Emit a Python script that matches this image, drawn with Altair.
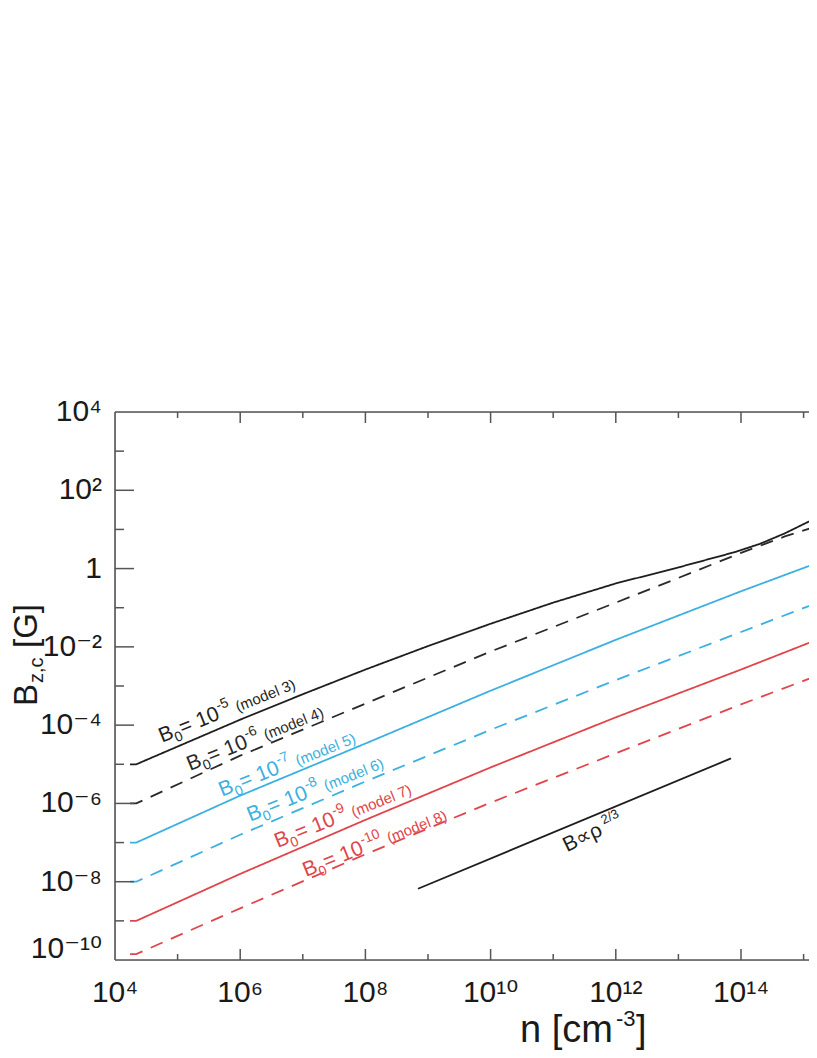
import altair as alt
import pandas as pd

FONT = "Liberation Sans, Arial, Helvetica, DejaVu Sans, sans-serif"

# ---------------- data (log10 values) ----------------
logn_m3 = [4.24, 4.34, 6.0, 7.0, 8.0, 9.0, 10.0, 11.0, 12.0, 13.0, 13.9, 14.3, 14.7, 15.21]
logb_m3 = [-5.00, -5.00, -3.86, -3.21, -2.58, -1.98, -1.41, -0.87, -0.38, 0.03, 0.42, 0.63, 0.90, 1.30]

logn_m4 = [4.24, 4.34, 6.0, 8.0, 10.0, 12.0, 13.0, 14.0, 14.3, 14.7, 15.21]
logb_m4 = [-6.00, -6.00, -4.78, -3.45, -2.12, -0.87, -0.24, 0.40, 0.58, 0.82, 1.08]

logn_std = [4.24, 4.34, 6.0, 8.0, 10.0, 12.0, 14.0, 15.21]
logb_m5 = [-7.00, -7.00, -5.80, -4.47, -3.12, -1.82, -0.58, 0.14]
logb_m6 = [-8.00, -8.00, -6.80, -5.44, -4.12, -2.85, -1.62, -0.88]
logb_m7 = [-9.00, -9.00, -7.80, -6.42, -5.08, -3.80, -2.58, -1.82]
logb_m8 = [-9.85, -9.85, -8.68, -7.30, -5.98, -4.72, -3.47, -2.74]

models = ["model 3", "model 4", "model 5", "model 6", "model 7", "model 8"]
line_colors = ["#1e1e1e", "#2a2a2a", "#3cb0e0", "#3cb0e0", "#e0454b", "#e0454b"]
line_dash = ["solid", "dashed", "solid", "dashed", "solid", "dashed"]

# reference power law B ~ rho^(2/3)
logn_pl = [8.84, 13.84]
logb_pl = [-8.18, -4.85]

# model labels
label_exp = ["-5", "-6", "-7", "-8", "-9", "-10"]
label_logn = [4.75, 5.20, 5.71, 6.16, 6.60, 7.05]
label_logb = [-4.45, -5.17, -5.83, -6.47, -7.14, -7.88]
pl_label_logn = [11.22]
pl_label_logb = [-7.25]

# axes
x_label_values = [1e4, 1e6, 1e8, 1e10, 1e12, 1e14]
x_label_texts = ["10⁴", "10⁶", "10⁸", "10¹⁰", "10¹²", "10¹⁴"]
y_label_values = [1e-10, 1e-8, 1e-6, 1e-4, 1e-2, 1, 1e2, 1e4]
y_label_texts = ["10⁻¹⁰", "10⁻⁸", "10⁻⁶", "10⁻⁴", "10⁻²", "1", "10²", "10⁴"]
x_major_ticks = [1e6, 1e8, 1e10, 1e12, 1e14]
x_minor_ticks = [1e5, 1e7, 1e9, 1e11, 1e13, 1e15]
y_major_ticks = [1e-8, 1e-6, 1e-4, 1e-2, 1, 1e2]
y_minor_ticks = [1e-9, 1e-7, 1e-5, 1e-3, 1e-1, 1e1, 1e3]

W, H = 694, 548
x_domain = [1e4, 10 ** (4 + W / 62.6)]
y_domain = [1e-10, 1e4]

# ---------------- tables ----------------
rows = []
series = [(logn_m3, logb_m3), (logn_m4, logb_m4), (logn_std, logb_m5),
          (logn_std, logb_m6), (logn_std, logb_m7), (logn_std, logb_m8)]
for m, d, (ln, lb) in zip(models, line_dash, series):
    for a, b in zip(ln, lb):
        rows.append({"n": 10 ** a, "B": 10 ** b, "model": m, "dash": d})
lines_df = pd.DataFrame(rows)

pl_df = pd.DataFrame({"n": [10 ** v for v in logn_pl], "B": [10 ** v for v in logb_pl]})

lab_df = pd.DataFrame({
    "n": [10 ** v for v in label_logn],
    "B": [10 ** v for v in label_logb],
    "model": models,
    "exp": label_exp,
    "name": ["(" + m + ")" for m in models],
    "long": [len(e) > 2 for e in label_exp],
})
pl_lab_df = pd.DataFrame({"n": [10 ** v for v in pl_label_logn], "B": [10 ** v for v in pl_label_logb]})

xs = alt.Scale(type="log", domain=x_domain, nice=False)
ys = alt.Scale(type="log", domain=y_domain, nice=False)
cs = alt.Scale(domain=models, range=line_colors)

AXC = "#555555"
TXT = "#1a1a1a"

lines = alt.Chart(lines_df).mark_line(strokeWidth=1.8, clip=True).encode(
    x=alt.X("n:Q", scale=xs, axis=None),
    y=alt.Y("B:Q", scale=ys, axis=None),
    color=alt.Color("model:N", scale=cs, legend=None),
    strokeDash=alt.StrokeDash("dash:N", scale=alt.Scale(domain=["solid", "dashed"], range=[[1, 0], [13, 9]]), legend=None),
    detail="model:N",
)

pl_line = alt.Chart(pl_df).mark_line(strokeWidth=1.8, color="#1e1e1e").encode(
    x=alt.X("n:Q", scale=xs, axis=None), y=alt.Y("B:Q", scale=ys, axis=None))


# inward ticks
def ticks_x(vals, length, top):
    df = pd.DataFrame({"n": vals})
    if top:
        enc = dict(y=alt.value(0), y2=alt.value(length))
    else:
        enc = dict(y=alt.value(H), y2=alt.value(H - length))
    return alt.Chart(df).mark_rule(color=AXC, strokeWidth=1.5).encode(
        x=alt.X("n:Q", scale=xs, axis=None), **enc)


def ticks_y(vals, length):
    df = pd.DataFrame({"B": vals})
    return alt.Chart(df).mark_rule(color=AXC, strokeWidth=1.5).encode(
        y=alt.Y("B:Q", scale=ys, axis=None), x=alt.value(0), x2=alt.value(length))


one = pd.DataFrame({"a": [0]})
frame = [
    alt.Chart(one).mark_rule(color=AXC, strokeWidth=1.6).encode(y=alt.value(0), x=alt.value(0), x2=alt.value(W)),
    alt.Chart(one).mark_rule(color=AXC, strokeWidth=1.6).encode(y=alt.value(H), x=alt.value(0), x2=alt.value(W)),
    alt.Chart(one).mark_rule(color=AXC, strokeWidth=1.6).encode(x=alt.value(0), y=alt.value(0), y2=alt.value(H)),
]

# tick labels (text through the scales)
xl_df = pd.DataFrame({"n": x_label_values, "t": x_label_texts})
yl_df = pd.DataFrame({"B": y_label_values, "t": y_label_texts})
x_labels = alt.Chart(xl_df).mark_text(align="center", baseline="alphabetic", font=FONT, fontSize=30,
                                      color=TXT).encode(
    x=alt.X("n:Q", scale=xs, axis=None), y=alt.value(H + 42), text="t:N")
y_labels = alt.Chart(yl_df).transform_filter(f"datum.B > {y_domain[0] * 1.5}").mark_text(
    align="right", baseline="middle", font=FONT, fontSize=30, color=TXT).encode(
    y=alt.Y("B:Q", scale=ys, axis=None), x=alt.value(-13), text="t:N")
y_label_bottom = alt.Chart(yl_df).transform_filter(f"datum.B <= {y_domain[0] * 1.5}").mark_text(
    align="right", baseline="alphabetic", dy=-2, font=FONT, fontSize=30, color=TXT).encode(
    y=alt.Y("B:Q", scale=ys, axis=None), x=alt.value(-13), text="t:N")

ANG = 338


def piece(df, field, size, dx, dy, angle=ANG, color_by_model=True, flt=None):
    c = alt.Chart(df)
    if flt is not None:
        c = c.transform_filter(flt)
    kw = dict(align="left", baseline="alphabetic", font=FONT, fontSize=size, angle=angle, dx=dx, dy=dy)
    if not color_by_model:
        kw["color"] = "#1e1e1e"
    m = c.mark_text(**kw)
    enc = dict(x=alt.X("n:Q", scale=xs, axis=None), y=alt.Y("B:Q", scale=ys, axis=None),
               text=alt.Text(field))
    if color_by_model:
        enc["color"] = alt.Color("model:N", scale=cs, legend=None)
    return m.encode(**enc)


lab_df["sym"] = "B"
lab_df["sub"] = "0"
lab_df["eq"] = "= 10"
labels = [
    piece(lab_df, "sym:N", 21, 0, 0),
    piece(lab_df, "sub:N", 14, 14, 5),
    piece(lab_df, "eq:N", 21, 22, 0),
    piece(lab_df, "exp:N", 14, 64, -9),
    piece(lab_df, "name:N", 15, 82, 0, flt="!datum.long"),
    piece(lab_df, "name:N", 15, 90, 0, flt="datum.long"),
]

pl_lab_df["t1"] = "B∝ρ"
pl_lab_df["t2"] = "2/3"
pl_labels = [
    piece(pl_lab_df, "t1:N", 21, 0, 0, angle=334, color_by_model=False),
    piece(pl_lab_df, "t2:N", 13, 45, -9, angle=334, color_by_model=False),
]

# axis titles built from text pieces
yt = pd.DataFrame({"p1": ["B"], "p2": ["z,c"], "p3": ["[G]"]})
xt = pd.DataFrame({"p1": ["n [cm"], "p2": ["-3"], "p3": ["]"]})


def ytitle(field, size, dx, dy):
    return alt.Chart(yt).mark_text(align="left", baseline="alphabetic", font=FONT, fontSize=size,
                                   angle=270, dx=dx, dy=dy, color=TXT).encode(
        x=alt.value(-78), y=alt.value(294), text=alt.Text(field))


def xtitle(field, size, dx, dy):
    return alt.Chart(xt).mark_text(align="left", baseline="alphabetic", font=FONT, fontSize=size,
                                   dx=dx, dy=dy, color=TXT).encode(
        x=alt.value(405), y=alt.value(H + 82), text=alt.Text(field))


ytitles = [ytitle("p1:N", 33, 0, 0), ytitle("p2:N", 20, 23, 6), ytitle("p3:N", 33, 58, 0)]
xtitles = [xtitle("p1:N", 38, 0, 0), xtitle("p2:N", 22, 96, -16), xtitle("p3:N", 38, 116, 0)]

chart = alt.layer(
    lines, pl_line,
    ticks_x(x_major_ticks, 11, True), ticks_x(x_minor_ticks, 6, True),
    ticks_x(x_major_ticks, 11, False), ticks_x(x_minor_ticks, 6, False),
    ticks_y(y_major_ticks, 19), ticks_y(y_minor_ticks, 9),
    *frame, x_labels, y_labels, y_label_bottom,
    *labels, *pl_labels, *ytitles, *xtitles,
).properties(
    width=W, height=H,
    autosize=alt.AutoSizeParams(type="none"),
    padding={"left": 107, "top": 404, "right": 0, "bottom": 90},
).configure_view(stroke=None).configure(background="white")

chart.save("out.html", embed_options={"renderer": "svg", "actions": False})
